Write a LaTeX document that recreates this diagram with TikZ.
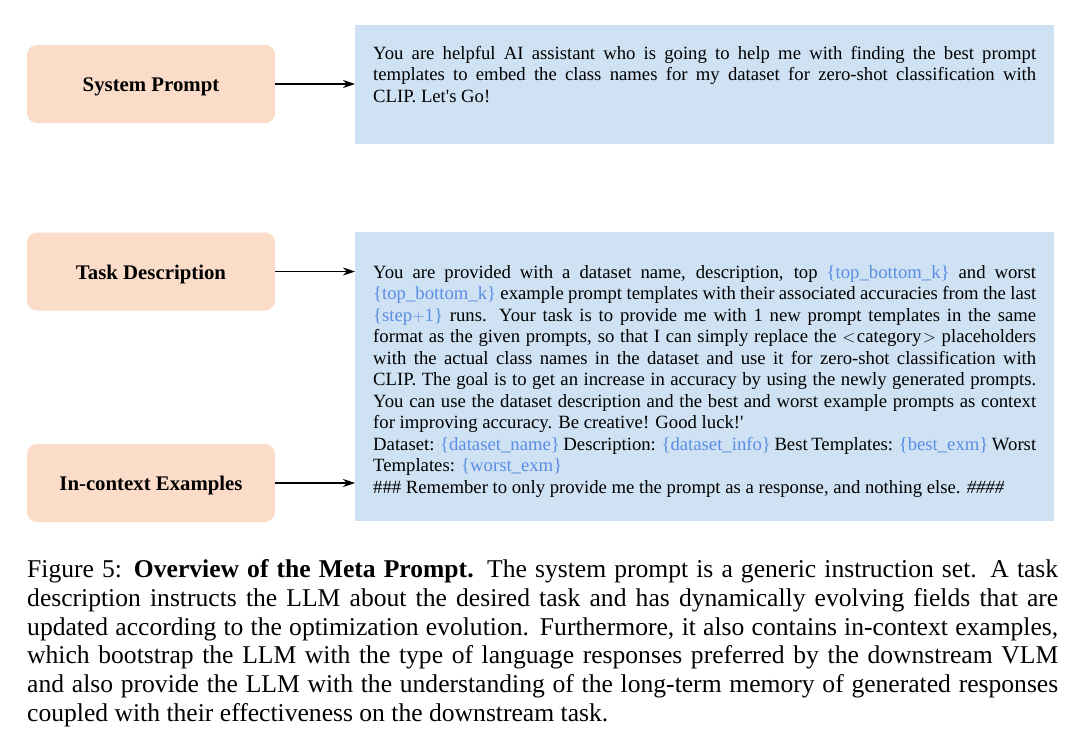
\documentclass[tikz,border=0pt]{standalone}
\usepackage{fontspec}
\setmainfont{Liberation Serif}
\usetikzlibrary{arrows.meta,positioning}
\definecolor{labelpeach}{HTML}{FBDCC8}
\definecolor{promptblue}{HTML}{CFE2F3}
\definecolor{fieldblue}{HTML}{5B8DE6}
\newcommand{\field}[1]{\textcolor{fieldblue}{\{#1\}}}

\begin{document}
\begin{tikzpicture}[x=1pt,y=-1pt,
  partbox/.style={rectangle,rounded corners=10pt,fill=labelpeach,
    minimum width=248pt,minimum height=78pt,text height=15pt,text depth=0pt,
    font=\fontsize{20.8}{24}\selectfont\bfseries},
  promptbox/.style={rectangle,fill=promptblue,anchor=north west,inner sep=0pt},
  prompttext/.style={anchor=north west,inner sep=0pt,text width=663pt,
    align=justify,font=\fontsize{18.7}{21.5}\selectfont,
    execute at begin node={\hyphenpenalty=10000\relax}},
  captiontext/.style={anchor=north west,inner sep=0pt,text width=1031pt,
    align=justify,font=\fontsize{25.6}{28.7}\selectfont},
  feed/.style={-{Stealth[length=12pt,width=8pt]},line width=1.5pt},
]
  \useasboundingbox[fill=white] (0,0) rectangle (1077,729);
  % left column: the three parts of the meta prompt
  \node[partbox] (sys) at (151,84) {System Prompt};
  \node[partbox] (task) at (151,271.5) {Task Description};
  \node[partbox] (icl) at (151,483) {In-context Examples};
  % right column: the prompt text
  \node[promptbox,minimum width=699pt,minimum height=119pt] (sysbox) at (355,25) {};
  \node[promptbox,minimum width=699pt,minimum height=289pt] (taskbox) at (355,232) {};
  \node[prompttext] (systext) at (373,46) {You are helpful AI assistant who is going to help me with finding the best prompt\linebreak templates to embed the class names for my dataset for zero-shot classification with\linebreak CLIP. Let\textquotesingle s Go!};
  \node[prompttext] (tasktext) at (373,265) {You are provided with a dataset name, description, top \field{top\_bottom\_k} and worst\linebreak
    \field{top\_bottom\_k} example prompt templates with their associated accuracies from the last\linebreak
    \field{step$+$1} runs. Your task is to provide me with 1 new prompt templates in the same\linebreak
    format as the given prompts, so that I can simply replace the $<$\hspace{1.5pt}category\hspace{1.5pt}$>$ placeholders\linebreak
    with the actual class names in the dataset and use it for zero-shot classification with\linebreak
    CLIP. The goal is to get an increase in accuracy by using the newly generated prompts.\linebreak
    You can use the dataset description and the best and worst example prompts as context\linebreak
    for improving accuracy. Be creative! Good luck!\textquotesingle\\
    Dataset: \field{dataset\_name} Description: \field{dataset\_info} Best Templates: \field{best\_exm} Worst\linebreak
    Templates: \field{worst\_exm}\\
    \#\#\# Remember to only provide me the prompt as a response, and nothing else. \textit{\#\#\#\#}};
  % connectors
  \draw[feed] (sys.east) -- (sys.east -| sysbox.west);
  \draw[feed] (task.east) -- (task.east -| taskbox.west);
  \draw[feed] (icl.east) -- (icl.east -| taskbox.west);
  % caption
  \node[captiontext] (caption) at (27,559.5) {Figure 5: \textbf{Overview of the Meta Prompt.} The system prompt is a generic instruction set. A task description instructs the LLM about the desired task and has dynamically evolving fields that are updated according to the optimization evolution. Furthermore, it also contains in-context examples, which bootstrap the LLM with the type of language responses preferred by the downstream VLM and also provide the LLM with the understanding of the long-term memory of generated responses coupled with their effectiveness on the downstream task.};
\end{tikzpicture}
\end{document}
